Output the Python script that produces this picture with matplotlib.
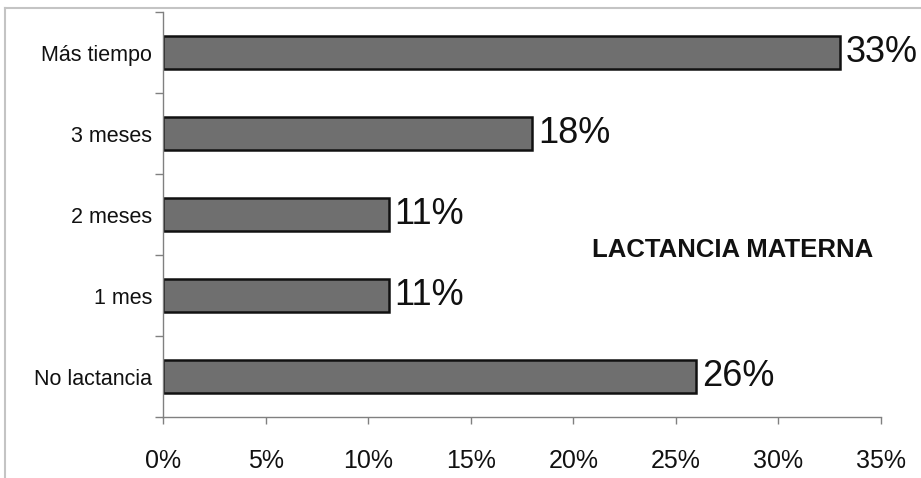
import matplotlib.pyplot as plt
from matplotlib.lines import Line2D
from matplotlib.ticker import FuncFormatter

# --- Data ---
categories = ["No lactancia", "1 mes", "2 meses", "3 meses", "Más tiempo"]
percent = [26, 11, 11, 18, 33]
x_ticks = [0, 5, 10, 15, 20, 25, 30, 35]

plt.rcParams["font.family"] = ["Liberation Sans", "DejaVu Sans"]

fig = plt.figure(figsize=(9.21, 4.78), dpi=100)
ax = fig.add_axes([0.177, 0.1276, 0.7796, 0.847])

y_pos = list(range(len(categories)))
ax.barh(y_pos, percent, height=0.4, color="#6f6f6f", edgecolor="#111111", linewidth=1.8)

for y, v in zip(y_pos, percent):
    ax.annotate(f"{v}%", (v, y), xytext=(4, 0), textcoords="offset points",
                va="center", ha="left", fontsize=26, color="#111111")

ax.set_xlim(0, 35)
ax.set_ylim(-0.5, len(categories) - 0.5)
ax.set_xticks(x_ticks)
ax.xaxis.set_major_formatter(FuncFormatter(lambda v, p: f"{v:.0f}%"))

# labels at bar centres, tick marks at the category boundaries
ax.set_yticks(y_pos)
ax.set_yticklabels(categories, fontsize=15.5, color="#111111")
ax.set_yticks([i - 0.5 for i in range(len(categories) + 1)], minor=True)
ax.tick_params(axis="y", which="major", length=0, pad=8)
ax.tick_params(axis="y", which="minor", length=6, width=1, color="#808080")
ax.tick_params(axis="x", length=5, width=1, color="#808080", pad=18,
               labelsize=18, labelcolor="#111111")

for side in ["top", "right"]:
    ax.spines[side].set_visible(False)
for side in ["left", "bottom"]:
    ax.spines[side].set_color("#808080")
    ax.spines[side].set_linewidth(1)

ax.text(0.794, 0.412, "LACTANCIA MATERNA", transform=ax.transAxes, ha="center",
        va="center", fontsize=18.5, fontweight="bold", color="#111111")

# light gray frame around the original chart area
fig.add_artist(Line2D([5 / 921, 1], [1 - 8 / 478, 1 - 8 / 478], color="#c4c4c4", lw=1.5))
fig.add_artist(Line2D([5 / 921, 5 / 921], [0, 1 - 8 / 478], color="#c4c4c4", lw=1.5))

fig.savefig("out.png", dpi=100)
